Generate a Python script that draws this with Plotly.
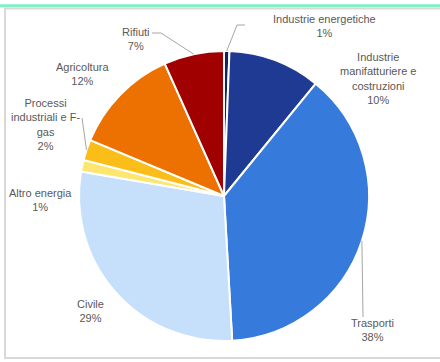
import math
import plotly.graph_objects as go

# ---- data ----
categories = ["Industrie energetiche", "Industrie manifatturiere e costruzioni", "Trasporti",
              "Civile", "Altro energia", "Processi industriali e F-gas", "Agricoltura", "Rifiuti"]
label_text = ["Industrie energetiche", "Industrie<br>manifatturiere e<br>costruzioni", "Trasporti",
              "Civile", "Altro energia", "Processi<br>industriali e F-<br>gas", "Agricoltura", "Rifiuti"]
values = [0.6, 10.3, 38.2, 28.6, 1.3, 2.3, 12.0, 6.7]

colors = ["#14245a", "#1f3a93", "#367bdb", "#c6e0fb", "#fde66e", "#fbbd17", "#ec7100", "#a10000"]

W, H = 440, 362
CX, CY, R = 224, 196, 145

def px(x):
    return x / W

def py(y):
    return 1 - y / H

fig = go.Figure(go.Pie(
    labels=categories, values=values, sort=False, direction="clockwise", rotation=0,
    marker=dict(colors=colors, line=dict(color="white", width=2)),
    textinfo="none", hoverinfo="label+percent", showlegend=False,
    domain=dict(x=[px(CX - R), px(CX + R)], y=[py(CY + R), py(CY - R)]),
))

# label layout (pixel centres of text blocks) and leader line bends
label_pos = {
    0: (324, 26), 1: (378, 79), 2: (372, 330), 3: (90, 311),
    4: (40, 200), 5: (45, 124), 6: (82, 74), 7: (136, 39),
}
leaders = {
    0: [(237, 25), (245, 25)],
    2: [(363, 317)],
    5: [(82, 118)],
    7: [(161, 33), (152, 33)],
}

total = sum(values)
cum = 0
annotations = []
shapes = []
for i, v in enumerate(values):
    mid = (cum + v / 2) / total * 2 * math.pi
    cum += v
    pct = f"{round(v / total * 100)}%"
    lx, ly = label_pos[i]
    annotations.append(dict(
        x=px(lx), y=py(ly), xref="paper", yref="paper", showarrow=False,
        text=f"{label_text[i]}<br>{pct}", align="center",
        font=dict(family="Liberation Sans, Arial", size=11, color="#595959"),
        xanchor="center", yanchor="middle",
    ))
    if i in leaders:
        sx = CX + R * math.sin(mid)
        sy = CY - R * math.cos(mid)
        pts = [(sx, sy)] + leaders[i]
        path = "M " + " L ".join(f"{px(a)},{py(b)}" for a, b in pts)
        shapes.append(dict(type="path", path=path, xref="paper", yref="paper",
                           line=dict(color="#a6a6a6", width=1)))

# frame decoration
shapes.append(dict(type="rect", xref="paper", yref="paper", x0=px(5), x1=px(460), y0=py(358), y1=py(8.5),
                   line=dict(color="#d9d9d9", width=2), fillcolor="rgba(0,0,0,0)", layer="below"))
shapes.append(dict(type="rect", xref="paper", yref="paper", x0=0, x1=1, y0=py(7.2), y1=py(4.3),
                   line=dict(width=0), fillcolor="#7ff2c4"))

fig.update_layout(
    width=W, height=H, margin=dict(l=0, r=0, t=0, b=0),
    paper_bgcolor="white", plot_bgcolor="white",
    annotations=annotations, shapes=shapes,
)
fig.write_html("out.html", config={"displayModeBar": False},
               post_script="document.body.style.margin='0';document.body.style.overflow='hidden';")
